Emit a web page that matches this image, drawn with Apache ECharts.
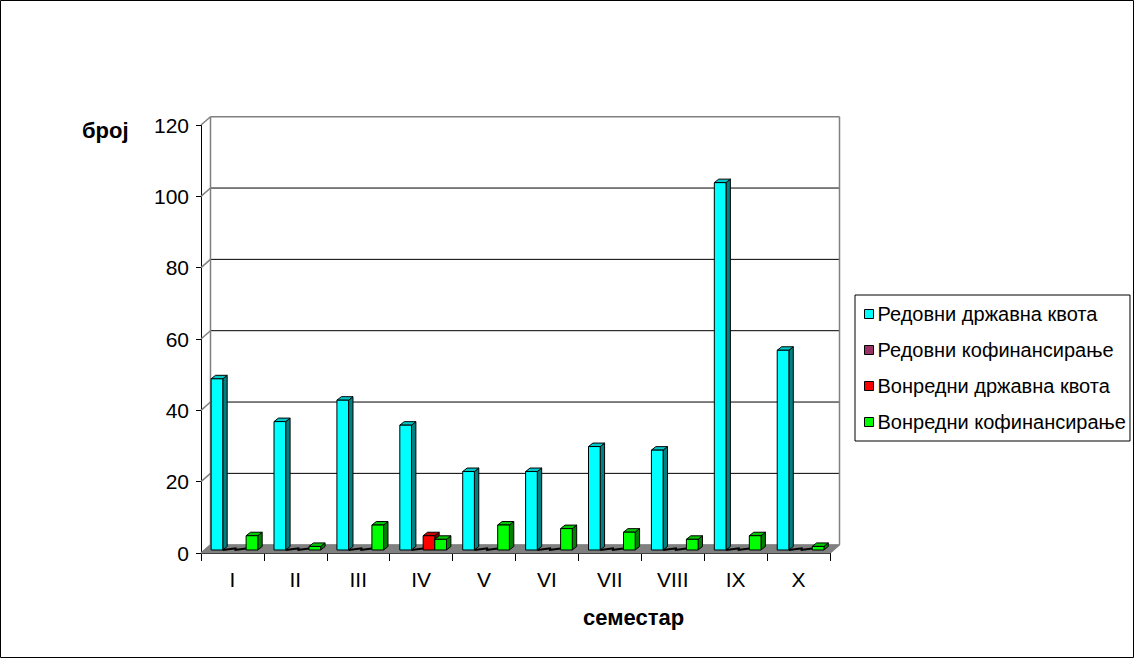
<!DOCTYPE html>
<html>
<head>
<meta charset="utf-8">
<script src="https://cdn.jsdelivr.net/npm/echarts@6/dist/echarts.min.js"></script>
<style>
html,body{margin:0;padding:0;background:#fff;}
#chart{width:1135px;height:659px;}
</style>
</head>
<body>
<div id="chart"></div>
<script>
const categories = ['I','II','III','IV','V','VI','VII','VIII','IX','X'];
const redovniDrzavna = [48,36,42,35,22,22,29,28,103,56];
const redovniKofin = [0,0,0,0,0,0,0,0,0,0];
const vanredniDrzavna = [0,0,0,4,0,0,0,0,0,0];
const vanredniKofin = [4,1,7,3,7,6,5,3,4,1];
const seriesNames = ['Редовни државна квота','Редовни кофинансирање','Вонредни државна квота','Вонредни кофинансирање'];
const yMin = 0, yMax = 120, yStep = 20;

const FONT = '"Liberation Sans", Arial, sans-serif';
const DX = 9.5, DY = 8.3;        // depth of the 3D box
const BDX = 4.4, BDY = 3.5;      // depth of each bar
const SHIFT_X = 2, SHIFT_Y = -3; // bars sit slightly inside the box

const palette = [
  {c:'#00FFFF', side:'#008080', top:'#00C8C8'},
  {c:'#993366', side:'#4d1a33', top:'#7a2952'},
  {c:'#FF0000', side:'#800000', top:'#CC0000'},
  {c:'#00FF00', side:'#008000', top:'#00C800'}
];

function barRenderer(sIdx) {
  const p = palette[sIdx];
  return function (params, api) {
    const cat = api.value(0), val = api.value(1);
    const base = api.coord([cat, 0]);
    const tp = api.coord([cat, val]);
    const band = api.size([1, 0])[0];
    const w = band * 0.1855;
    const x0 = base[0] - 2 * w + sIdx * w + SHIFT_X;
    const yb = base[1] + SHIFT_Y;
    const yt = tp[1] + SHIFT_Y;
    if (val === 0) {
      return {type:'line', shape:{x1:x0, y1:yb, x2:x0+w+BDX*0.5, y2:yb-BDY*0.5},
              style:{stroke:'#000', lineWidth:2}};
    }
    return {
      type: 'group',
      children: [
        {type:'polygon', shape:{points:[[x0+w,yt],[x0+w+BDX,yt-BDY],[x0+w+BDX,yb-BDY],[x0+w,yb]]},
         style:{fill:p.side, stroke:'#000', lineWidth:1}},
        {type:'polygon', shape:{points:[[x0,yt],[x0+BDX,yt-BDY],[x0+w+BDX,yt-BDY],[x0+w,yt]]},
         style:{fill:p.top, stroke:'#000', lineWidth:1}},
        {type:'rect', shape:{x:x0, y:yt, width:w, height:Math.max(yb-yt,0)},
         style:{fill:p.c, stroke:'#000', lineWidth:1}}
      ]
    };
  };
}

function frameRenderer(params, api) {
  const cs = params.coordSys;
  const x = cs.x, y = cs.y, w = cs.width, h = cs.height;
  const children = [];
  children.push({type:'polygon', shape:{points:[[x,y+h],[x+w,y+h],[x+w+DX,y+h-DY],[x+DX,y+h-DY]]},
    style:{fill:'#808080', stroke:'#808080', lineWidth:1}});
  for (let v = yMin + yStep; v < yMax; v += yStep) {
    const yy = api.coord([0, v])[1];
    children.push({type:'line', shape:{x1:x+DX, y1:yy-DY, x2:x+w+DX, y2:yy-DY}, style:{stroke:'#000', lineWidth:1}});
  }
  for (let v = yMin; v <= yMax; v += yStep) {
    const yy = api.coord([0, v])[1];
    children.push({type:'line', shape:{x1:x, y1:yy, x2:x+DX, y2:yy-DY}, style:{stroke:'#808080', lineWidth:1.5}});
  }
  children.push({type:'line', shape:{x1:x+DX, y1:y-DY, x2:x+DX, y2:y+h-DY}, style:{stroke:'#808080', lineWidth:1.5}});
  children.push({type:'line', shape:{x1:x+DX, y1:y-DY, x2:x+w+DX, y2:y-DY}, style:{stroke:'#808080', lineWidth:1.5}});
  children.push({type:'line', shape:{x1:x+w+DX, y1:y-DY, x2:x+w+DX, y2:y+h-DY}, style:{stroke:'#808080', lineWidth:1.5}});
  children.push({type:'line', shape:{x1:x+w, y1:y+h, x2:x+w+DX, y2:y+h-DY}, style:{stroke:'#808080', lineWidth:1.5}});
  return {type:'group', children};
}

const allValues = [redovniDrzavna, redovniKofin, vanredniDrzavna, vanredniKofin];

const series = [{
  name: 'frame', type: 'custom', renderItem: frameRenderer, data: [[0, 0]],
  silent: true, z: 1, tooltip: {show:false}
}];
allValues.forEach((vals, s) => {
  series.push({
    name: seriesNames[s],
    type: 'custom',
    renderItem: barRenderer(s),
    encode: {x: 0, y: 1},
    data: vals.map((v, i) => [i, v]),
    itemStyle: {color: palette[s].c, borderColor: '#000', borderWidth: 1},
    z: 2
  });
});

const chart = echarts.init(document.getElementById('chart'), null, {renderer: 'svg'});
chart.setOption({
  animation: false,
  backgroundColor: '#fff',
  textStyle: {fontFamily: FONT},
  grid: {left: 201, right: 305, top: 125, bottom: 106},
  xAxis: {
    type: 'category',
    data: categories,
    boundaryGap: true,
    axisLine: {show: true, lineStyle: {color: '#000', width: 1}},
    axisTick: {show: true, length: 8, lineStyle: {color: '#000'}},
    axisLabel: {color: '#000', fontSize: 21, fontFamily: FONT, margin: 16},
    splitLine: {show: false}
  },
  yAxis: {
    type: 'value',
    min: yMin, max: yMax, interval: yStep,
    axisLine: {show: true, lineStyle: {color: '#000', width: 1}},
    axisTick: {show: true, length: 5, lineStyle: {color: '#000'}},
    axisLabel: {color: '#000', fontSize: 21, fontFamily: FONT, margin: 12},
    splitLine: {show: false}
  },
  legend: {
    orient: 'vertical',
    left: 855, top: 295,
    data: seriesNames,
    icon: 'rect',
    itemWidth: 9, itemHeight: 9,
    itemGap: 16,
    padding: [9, 4, 9, 9],
    borderColor: '#000', borderWidth: 1,
    itemStyle: {borderColor: '#000', borderWidth: 1},
    textStyle: {color: '#000', fontSize: 20, fontFamily: FONT, lineHeight: 20, padding: [0, 0, 0, -1]}
  },
  graphic: [
    {type: 'rect', shape: {x: 0.5, y: 0.5, width: 1133, height: 657}, style: {fill: 'none', stroke: '#000', lineWidth: 1}, silent: true},
    {type: 'text', left: 82, top: 119, style: {text: 'број', font: 'bold 22px ' + FONT, fill: '#000'}},
    {type: 'text', left: 583, top: 606, style: {text: 'семестар', font: 'bold 22px ' + FONT, fill: '#000'}}
  ],
  series: series
});
</script>
</body>
</html>
